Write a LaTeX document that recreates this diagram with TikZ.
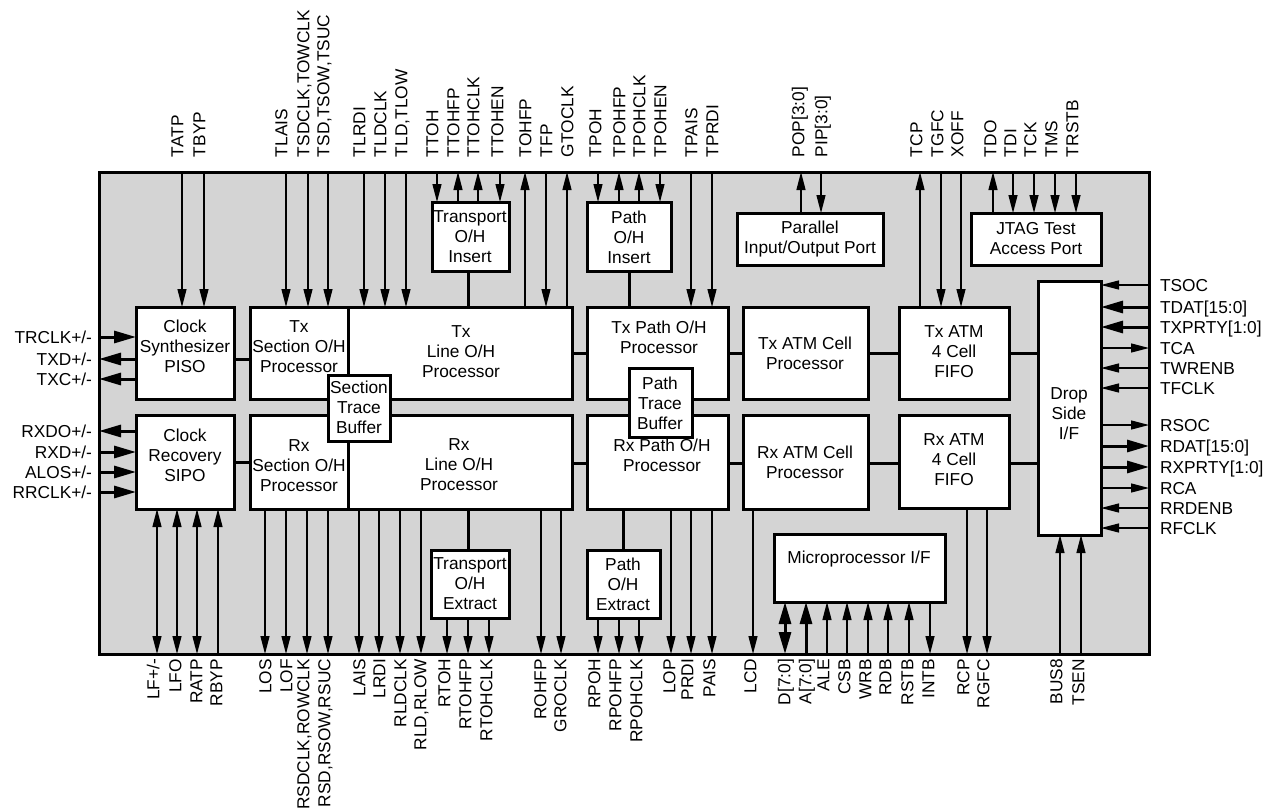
\documentclass[tikz,border=0pt]{standalone}
\usepackage{fontspec}
\setmainfont{Liberation Sans}
\usetikzlibrary{arrows.meta}
\definecolor{chipgray}{RGB}{212,212,212}
\newcommand\blk[5]{\node[blk,minimum width={#4pt-#2pt},minimum height={#5pt-#3pt}] (#1) at ({(#2+#4)/2},{(#3+#5)/2}) {};}
\newcommand\tp[5]{\draw[#3] (chip.north -| #1,0) -- (#2.north -| #1,0); \node[tlab] at (#1-#5,157) {#4};}
\newcommand\bp[5]{\draw[#3] (#2.south -| #1,0) -- (chip.south -| #1,0); \node[blab] at (#1-#5,659) {#4};}
\newcommand\lp[4]{\draw[#3] (chip.west |- 0,#1) -- (#2.west |- 0,#1); \node[llab] at (92,#1+6) {#4};}
\newcommand\rp[3]{\draw[#2] (drop.east |- 0,#1) -- (chip.east |- 0,#1); \node[rlab] at (1160,#1+6) {#3};}
\begin{document}
\begin{tikzpicture}[x=1pt,y=-1pt,
  every node/.style={inner sep=0pt,outer sep=0pt,font=\fontsize{17.3}{20}\selectfont},
  blk/.style={draw,line width=3pt,fill=white,rectangle},
  txt/.style={align=center},
  wire/.style={line width=1.3pt,>={Triangle[length=18pt,width=9pt]}},
  thk/.style={line width=3pt,>={Triangle[length=22pt,width=12pt]}},
  conn/.style={line width=3pt},
  tlab/.style={rotate=90,anchor=west,text height=12.5pt,text depth=0pt},
  blab/.style={rotate=90,anchor=east,text height=12.5pt,text depth=0pt},
  llab/.style={anchor=base east},
  rlab/.style={anchor=base west}]
\useasboundingbox (0,0) rectangle (1275,811);
\node[draw,line width=3pt,fill=chipgray,minimum width=1050pt,minimum height=482pt] (chip) at (624,413) {};

% blocks
\blk{csyn}{136}{307}{234}{399}
\blk{crec}{136}{415}{234}{509}
\blk{txsec}{250}{307}{348}{399}
\blk{rxsec}{250}{415}{348}{509}
\blk{txline}{348}{307}{572}{399}
\blk{rxline}{348}{415}{572}{509}
\blk{txpath}{587}{307}{728}{399}
\blk{rxpath}{587}{415}{728}{509}
\blk{txatm}{743}{307}{868}{399}
\blk{rxatm}{743}{415}{868}{509}
\blk{txfifo}{899}{307}{1009}{399}
\blk{rxfifo}{899}{415}{1009}{508}
\blk{drop}{1038}{281}{1101}{535}
\blk{toi}{432}{202}{509}{271}
\blk{poi}{587}{202}{671}{271}
\blk{ppar}{737}{213}{883}{265}
\blk{jtag}{971}{213}{1101}{265}
\blk{toe}{431}{550}{509}{618}
\blk{poe}{587}{550}{660}{618}
\blk{micro}{774}{534}{945}{602}

% top pins
\tp{182}{csyn}{wire,->}{TATP}{5}
\tp{204}{csyn}{wire,->}{TBYP}{5}
\tp{286}{txsec}{wire,->}{TLAIS}{5}
\tp{308}{txsec}{wire,->}{TSDCLK,TOWCLK}{5}
\tp{328}{txsec}{wire,->}{TSD,TSOW,TSUC}{5}
\tp{364}{txline}{wire,->}{TLRDI}{5}
\tp{385}{txline}{wire,->}{TLDCLK}{5}
\tp{406}{txline}{wire,->}{TLD,TLOW}{5}
\tp{437}{toi}{wire,->}{TTOH}{5}
\tp{458}{toi}{wire,<-}{TTOHFP}{5}
\tp{478}{toi}{wire,<-}{TTOHCLK}{5}
\tp{500}{toi}{wire,->}{TTOHEN}{3}
\tp{525}{txline}{wire,<-}{TOHFP}{0}
\tp{546}{txline}{wire,->}{TFP}{0}
\tp{567}{txline}{wire,<-}{GTOCLK}{0}
\tp{598}{poi}{wire,->}{TPOH}{3}
\tp{619}{poi}{wire,<-}{TPOHFP}{0}
\tp{639}{poi}{wire,<-}{TPOHCLK}{0}
\tp{660}{poi}{wire,->}{TPOHEN}{0}
\tp{691}{txpath}{wire,->}{TPAIS}{0}
\tp{712}{txpath}{wire,->}{TPRDI}{0}
\tp{801}{ppar}{wire,<-}{POP[3:0]}{3}
\tp{821}{ppar}{wire,->}{PIP[3:0]}{0}
\tp{920}{txfifo}{wire,<-}{TCP}{4}
\tp{941}{txfifo}{wire,->}{TGFC}{4}
\tp{961}{txfifo}{wire,->}{XOFF}{4}
\tp{993}{jtag}{wire,<-}{TDO}{3}
\tp{1013}{jtag}{wire,->}{TDI}{3}
\tp{1034}{jtag}{wire,->}{TCK}{4}
\tp{1055}{jtag}{wire,->}{TMS}{4}
\tp{1076}{jtag}{wire,->}{TRSTB}{4}

% bottom pins
\bp{157}{crec}{wire,<->}{LF+/-}{4}
\bp{177}{crec}{wire,<->}{LFO}{2}
\bp{197}{crec}{wire,<->}{RATP}{1}
\bp{218}{crec}{wire,<-}{RBYP}{2}
\bp{265}{rxsec}{wire,->}{LOS}{0}
\bp{286}{rxsec}{wire,->}{LOF}{0}
\bp{307}{rxsec}{wire,->}{RSDCLK,ROWCLK}{4}
\bp{328}{rxsec}{wire,->}{RSD,RSOW,RSUC}{4}
\bp{359}{rxline}{wire,->}{LAIS}{0}
\bp{379}{rxline}{wire,->}{LRDI}{0}
\bp{400}{rxline}{wire,->}{RLDCLK}{0}
\bp{421}{rxline}{wire,->}{RLD,RLOW}{1}
\bp{447}{toe}{wire,->}{RTOH}{3}
\bp{468}{toe}{wire,->}{RTOHFP}{3}
\bp{489}{toe}{wire,->}{RTOHCLK}{3}
\bp{541}{rxline}{wire,->}{ROHFP}{1}
\bp{561}{rxline}{wire,->}{GROCLK}{1}
\bp{598}{poe}{wire,->}{RPOH}{4}
\bp{619}{poe}{wire,->}{RPOHFP}{4}
\bp{639}{poe}{wire,->}{RPOHCLK}{3}
\bp{671}{rxpath}{wire,->}{LOP}{2}
\bp{691}{rxpath}{wire,->}{PRDI}{4}
\bp{712}{rxpath}{wire,->}{PAIS}{3}
\bp{753}{rxatm}{wire,->}{LCD}{3}
\bp{785}{micro}{thk,<->}{D[7:0]}{1}
\bp{806}{micro}{thk,<-}{A[7:0]}{1}
\bp{827}{micro}{wire,<-}{ALE}{4}
\bp{847}{micro}{wire,<-}{CSB}{3}
\bp{868}{micro}{wire,<-}{WRB}{3}
\bp{888}{micro}{wire,<-}{RDB}{3}
\bp{909}{micro}{wire,<-}{RSTB}{2}
\bp{930}{micro}{wire,->}{INTB}{2}
\bp{967}{rxfifo}{wire,->}{RCP}{4}
\bp{987}{rxfifo}{wire,->}{RGFC}{4}
\bp{1060}{drop}{wire,<-}{BUS8}{4}
\bp{1081}{drop}{wire,<-}{TSEN}{3}

% left pins
\lp{337}{csyn}{thk,->}{TRCLK+/-}
\lp{359}{csyn}{thk,<-}{TXD+/-}
\lp{379}{csyn}{thk,<-}{TXC+/-}
\lp{431}{crec}{thk,<-}{RXDO+/-}
\lp{452}{crec}{thk,->}{RXD+/-}
\lp{472}{crec}{thk,->}{ALOS+/-}
\lp{492}{crec}{thk,->}{RRCLK+/-}

% right pins
\rp{285}{wire,<-}{TSOC}
\rp{307}{thk,<-}{TDAT[15:0]}
\rp{327}{thk,<-}{TXPRTY[1:0]}
\rp{348}{wire,->}{TCA}
\rp{368}{wire,<-}{TWRENB}
\rp{388}{wire,<-}{TFCLK}
\rp{425}{wire,->}{RSOC}
\rp{446}{thk,->}{RDAT[15:0]}
\rp{467}{thk,->}{RXPRTY[1:0]}
\rp{488}{wire,->}{RCA}
\rp{508}{wire,<-}{RRDENB}
\rp{528}{wire,<-}{RFCLK}

% block connectors
\draw[conn] (csyn.east |- 0,359) -- (txsec.west |- 0,359);
\draw[conn] (crec.east |- 0,462) -- (rxsec.west |- 0,462);
\draw[conn] (txline.east |- 0,353) -- (txpath.west |- 0,353);
\draw[conn] (rxline.east |- 0,463) -- (rxpath.west |- 0,463);
\draw[conn] (txpath.east |- 0,353) -- (txatm.west |- 0,353);
\draw[conn] (rxpath.east |- 0,463) -- (rxatm.west |- 0,463);
\draw[conn] (txatm.east |- 0,353) -- (txfifo.west |- 0,353);
\draw[conn] (rxatm.east |- 0,463) -- (rxfifo.west |- 0,463);
\draw[conn] (txfifo.east |- 0,353) -- (drop.west |- 0,353);
\draw[conn] (rxfifo.east |- 0,463) -- (drop.west |- 0,463);
\draw[conn] (toi.south -| 468,0) -- (txline.north -| 468,0);
\draw[conn] (poi.south -| 629,0) -- (txpath.north -| 629,0);
\draw[conn] (rxline.south -| 468,0) -- (toe.north -| 468,0);
\draw[conn] (rxpath.south -| 623,0) -- (poe.north -| 623,0);

% trace buffers on top
\blk{stb}{328}{375}{390}{441}
\blk{ptb}{629}{368}{692}{437}

% block texts
\node[txt] at (185,346) {Clock\\Synthesizer\\PISO};
\node[txt] at (185,455) {Clock\\Recovery\\SIPO};
\node[txt] at (299,347) {Tx\\Section O/H\\Processor};
\node[txt] at (299,466) {Rx\\Section O/H\\Processor};
\node[txt] at (461,352) {Tx\\Line O/H\\Processor};
\node[txt] at (459,465) {Rx\\Line O/H\\Processor};
\node[txt] at (359,407) {Section\\Trace\\Buffer};
\node[txt] at (659,337) {Tx Path O/H\\Processor};
\node[txt] at (662,455) {Rx Path O/H\\Processor};
\node[txt] at (660,403) {Path\\Trace\\Buffer};
\node[txt] at (805,353) {Tx ATM Cell\\Processor};
\node[txt] at (805,462) {Rx ATM Cell\\Processor};
\node[txt] at (954,352) {Tx ATM\\4 Cell\\FIFO};
\node[txt] at (954,460) {Rx ATM\\4 Cell\\FIFO};
\node[txt] at (1069,414) {Drop\\Side\\I/F};
\node[txt] at (470,237) {Transport\\O/H\\Insert};
\node[txt] at (629,237) {Path\\O/H\\Insert};
\node[txt] at (810,239) {Parallel\\Input/Output Port};
\node[txt] at (1036,239) {JTAG Test\\Access Port};
\node[txt] at (470,584) {Transport\\O/H\\Extract};
\node[txt] at (623,584) {Path\\O/H\\Extract};
\node[txt] at (859,559) {Microprocessor I/F};
\end{tikzpicture}
\end{document}
